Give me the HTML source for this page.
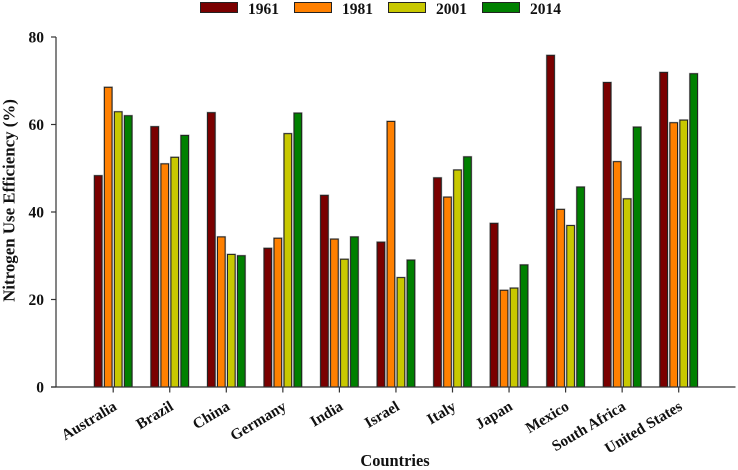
<!DOCTYPE html>
<html>
<head>
<meta charset="utf-8">
<style>
html,body{margin:0;padding:0;background:#fff;}
svg{display:block;}
text{font-family:"Liberation Serif",serif;font-weight:bold;fill:#111;}
</style>
</head>
<body>
<svg id="chart" width="738" height="470" viewBox="0 0 738 470" xmlns="http://www.w3.org/2000/svg">
<text transform="translate(14.5,200.5) rotate(-90)" text-anchor="middle" font-size="16.9">Nitrogen Use Efficiency (%)</text>
<text x="395" y="466" text-anchor="middle" font-size="16.4">Countries</text>
</svg>
<script>
const categories = ["Australia","Brazil","China","Germany","India","Israel","Italy","Japan","Mexico","South Africa","United States"];
const seriesNames = ["1961","1981","2001","2014"];
const values1961 = [48.3,59.5,62.7,31.7,43.8,33.1,47.8,37.4,75.8,69.6,71.9];
const values1981 = [68.5,51.0,34.3,34.0,33.8,60.7,43.4,22.1,40.6,51.5,60.4];
const values2001 = [62.9,52.5,30.3,57.9,29.2,25.0,49.6,22.6,36.9,43.0,61.0];
const values2014 = [62.0,57.5,30.0,62.6,34.3,29.0,52.6,27.9,45.7,59.4,71.6];
const yTicks = [0,20,40,60,80];
const seriesColors = ["#7a0000","#ff8000","#c8c800","#008000"];

const allSeries = [values1961, values1981, values2001, values2014];
const svg = document.getElementById('chart');
const NS = 'http://www.w3.org/2000/svg';
function y(v){ return 387 - v * 350 / 80; }
function x(i){ return 113.2 + i * 56.55; }
function make(tag, attrs, parent){
  const e = document.createElementNS(NS, tag);
  for (const k in attrs) e.setAttribute(k, attrs[k]);
  (parent || svg).appendChild(e);
  return e;
}
const barW = 7.6, barStep = 10;
allSeries.forEach(function(vals, s){
  vals.forEach(function(v, i){
    const cx = x(i) + (s - 1.5) * barStep;
    const halo = make('rect', {x: cx - barW/2 - 1, y: y(v) - 1, width: barW + 2, height: 387 - y(v) + 1, fill: '#bbb'});
    
    
    const r = make('rect', {x: cx - barW/2, y: y(v), width: barW, height: 387 - y(v), fill: seriesColors[s], stroke: '#222', 'stroke-width': 1});
    
    
  });
});
const yAxis = make('line', {x1: 56, x2: 56, y1: y(80), y2: y(0), stroke: '#333', 'stroke-width': 1.2});


const xAxis = make('line', {x1: 51, x2: 735.5, y1: 387, y2: 387, stroke: '#333', 'stroke-width': 1.2});


yTicks.forEach(function(t){
  const l = make('line', {x1: 51, x2: 56, y1: y(t), y2: y(t), stroke: '#333', 'stroke-width': 1.2});
  
  
  const tx = make('text', {x: 44, y: y(t) + 5.5, 'text-anchor': 'end', 'font-size': 15.5});
  
  
  tx.textContent = t;
});
categories.forEach(function(c, i){
  const l = make('line', {x1: x(i), x2: x(i), y1: 387, y2: 392.5, stroke: '#333', 'stroke-width': 1.2});
  
  
  const tx = make('text', {transform: 'translate(' + (x(i) + 4.5) + ',409) rotate(-31)', 'text-anchor': 'end', 'font-size': 15.3});
  
  
  tx.textContent = c;
});
seriesNames.forEach(function(n, s){
  const lx = 200.5 + s * 94;
  const r = make('rect', {x: lx, y: 2.5, width: 37, height: 10, fill: seriesColors[s], stroke: '#222', 'stroke-width': 1});
  
  
  const tx = make('text', {x: lx + 47.5, y: 14, 'font-size': 15.5});
  
  
  tx.textContent = n;
});
</script>
</body>
</html>
